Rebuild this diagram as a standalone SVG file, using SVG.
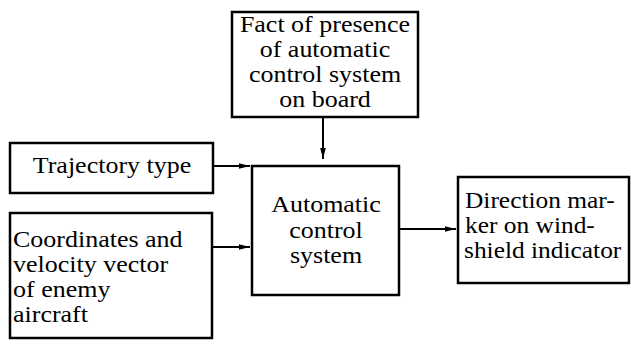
<svg xmlns="http://www.w3.org/2000/svg" width="631" height="348" viewBox="0 0 631 348">
  <defs>
    <marker id="arrow" markerWidth="12" markerHeight="8" refX="11" refY="4" orient="auto" markerUnits="userSpaceOnUse">
      <path d="M0,1.2 L11,4 L0,6.8 Z" fill="#000"/>
    </marker>
    <style>
      .box { fill: #fff; stroke: #000; stroke-width: 2.5; }
      .mid { text-anchor: middle; }
      .conn { stroke: #000; stroke-width: 2; fill: none; marker-end: url(#arrow); }
    </style>
  </defs>
  <rect width="631" height="348" fill="#fff"/>

  <g font-family="Liberation Serif, Times New Roman, serif" font-size="23.5" fill="#000">
    <g id="presence">
      <rect class="box" x="232" y="12" width="186" height="105"/>
      <text class="mid" transform="translate(325 32) scale(1.106 1)">Fact of presence</text>
      <text class="mid" transform="translate(325 57) scale(1.106 1)">of automatic</text>
      <text class="mid" transform="translate(325 82) scale(1.106 1)">control system</text>
      <text class="mid" transform="translate(325 107) scale(1.106 1)">on board</text>
    </g>

    <g id="trajectory">
      <rect class="box" x="10" y="143" width="203" height="50"/>
      <text class="mid" transform="translate(112 173) scale(1.106 1)">Trajectory type</text>
    </g>

    <g id="coordinates">
      <rect class="box" x="10" y="213" width="202" height="125"/>
      <text transform="translate(13 247) scale(1.106 1)">Coordinates and</text>
      <text transform="translate(13 272) scale(1.106 1)">velocity vector</text>
      <text transform="translate(13 297) scale(1.106 1)">of enemy</text>
      <text transform="translate(13 322) scale(1.106 1)">aircraft</text>
    </g>

    <g id="acs">
      <rect class="box" x="252" y="166" width="147" height="129"/>
      <text class="mid" transform="translate(326 212) scale(1.106 1)">Automatic</text>
      <text class="mid" transform="translate(326 238) scale(1.106 1)">control</text>
      <text class="mid" transform="translate(326 263) scale(1.106 1)">system</text>
    </g>

    <g id="marker">
      <rect class="box" x="458" y="177" width="171" height="106"/>
      <text transform="translate(465 208) scale(1.081 1)">Direction mar-</text>
      <text transform="translate(465 233) scale(1.081 1)">ker on wind-</text>
      <text transform="translate(464 258) scale(1.081 1)">shield indicator</text>
    </g>
  </g>

  <g id="connectors">
    <line class="conn" x1="323" y1="118" x2="323" y2="159"/>
    <line class="conn" x1="213" y1="166" x2="250" y2="166"/>
    <line class="conn" x1="212" y1="247" x2="250" y2="247"/>
    <line class="conn" x1="400" y1="229" x2="456" y2="229"/>
  </g>
</svg>
